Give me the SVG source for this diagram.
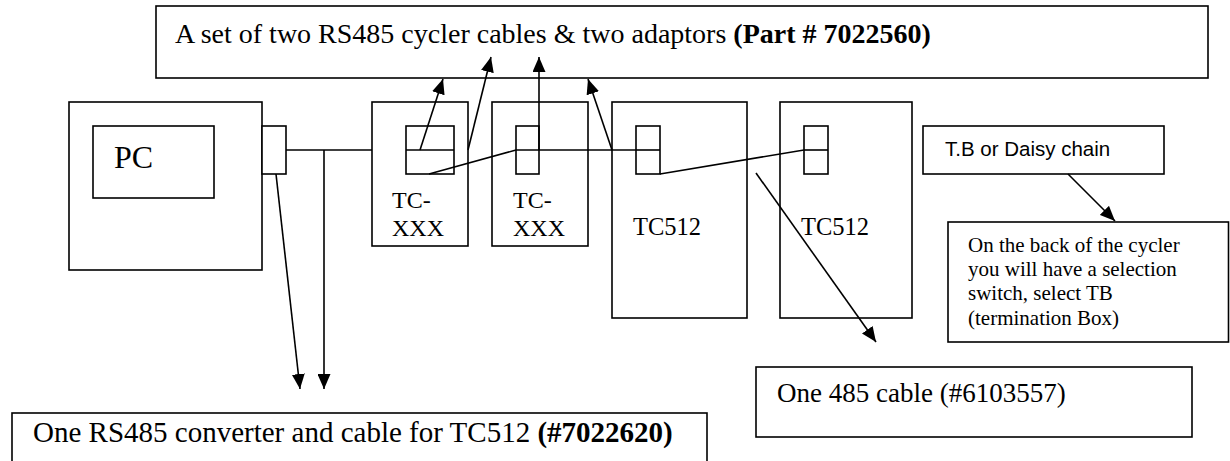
<svg xmlns="http://www.w3.org/2000/svg" width="1230" height="461" viewBox="0 0 1230 461">
<style>
  .box { fill: #fff; stroke: #000; stroke-width: 1.6; }
  .ln { fill: none; stroke: #000; stroke-width: 1.6; }
  .arr { fill: none; stroke: #000; stroke-width: 1.6; marker-end: url(#ah); }
  .t { font-family: "Liberation Serif", "Times New Roman", serif; fill: #000; }
  .s { font-family: "Liberation Sans", Arial, sans-serif; fill: #000; }
  .b { font-weight: bold; }
</style>
<defs>
  <marker id="ah" viewBox="0 0 15 13" refX="15" refY="6.5" markerWidth="15" markerHeight="13" markerUnits="userSpaceOnUse" orient="auto">
    <path d="M0,0 L15,6.5 L0,13 z" fill="#000"/>
  </marker>
</defs>
<rect width="1230" height="461" fill="#fff"/>

<g id="top-box">
  <rect class="box" x="156" y="6" width="1052" height="72"/>
  <text class="t" x="175" y="43" font-size="28">A set of two RS485 cycler cables &amp; two adaptors <tspan class="b">(Part # 7022560)</tspan></text>
</g>

<g id="pc">
  <rect class="box" x="69" y="102" width="193" height="168"/>
  <rect class="box" x="93" y="126" width="121" height="72"/>
  <text class="t" x="114" y="168" font-size="32">PC</text>
  <rect class="box" x="262" y="126" width="24" height="48"/>
</g>

<g id="tc-xxx-1">
  <rect class="box" x="372" y="102" width="96" height="144"/>
  <rect class="box" x="406" y="126" width="48" height="48"/>
  <line class="ln" x1="406" y1="150" x2="454" y2="150"/>
  <text class="t" x="392" y="208" font-size="24">TC-</text>
  <text class="t" x="392" y="236" font-size="24">XXX</text>
</g>

<g id="tc-xxx-2">
  <rect class="box" x="492" y="102" width="96" height="144"/>
  <rect class="box" x="516" y="126" width="23" height="48"/>
  <text class="t" x="513" y="208" font-size="24">TC-</text>
  <text class="t" x="513" y="236" font-size="24">XXX</text>
</g>

<g id="tc512-1">
  <rect class="box" x="612" y="102" width="135" height="216"/>
  <rect class="box" x="636" y="126" width="24" height="48"/>
  <line class="ln" x1="636" y1="150" x2="660" y2="150"/>
  <text class="t" x="633" y="235" font-size="24.5">TC512</text>
</g>

<g id="tc512-2">
  <rect class="box" x="780" y="102" width="132" height="216"/>
  <rect class="box" x="804" y="126" width="24" height="48"/>
  <line class="ln" x1="804" y1="150" x2="828" y2="150"/>
  <text class="t" x="801" y="235" font-size="24.5">TC512</text>
</g>

<g id="tb-note">
  <rect class="box" x="923" y="126" width="241" height="48"/>
  <text class="s" x="945" y="156" font-size="20.5">T.B or Daisy chain</text>
</g>

<g id="back-note">
  <rect class="box" x="948" y="222" width="280.5" height="120"/>
  <text class="t" font-size="21">
    <tspan x="968" y="252">On the back of the cycler</tspan>
    <tspan x="968" y="276">you will have a selection</tspan>
    <tspan x="968" y="300">switch, select TB</tspan>
    <tspan x="968" y="325">(termination Box)</tspan>
  </text>
</g>

<g id="cable-485">
  <rect class="box" x="756" y="367" width="436" height="70"/>
  <text class="t" x="777" y="402" font-size="27">One 485 cable (#6103557)</text>
</g>

<g id="converter">
  <rect class="box" x="12" y="413" width="695" height="60"/>
  <text class="t" x="33" y="442" font-size="29">One RS485 converter and cable for TC512 <tspan class="b">(#7022620)</tspan></text>
</g>

<g id="connectors">
  <line class="ln" x1="286" y1="150" x2="372" y2="150"/>
  <line class="ln" x1="429" y1="174" x2="516" y2="150"/>
  <line class="ln" x1="516" y1="150" x2="636" y2="150"/>
  <line class="ln" x1="660" y1="174" x2="804" y2="150"/>
  <line class="arr" x1="420" y1="150" x2="443" y2="79"/>
  <line class="arr" x1="468" y1="150" x2="491" y2="57"/>
  <line class="arr" x1="539" y1="150" x2="539" y2="57"/>
  <line class="arr" x1="612" y1="150" x2="588" y2="79"/>
  <line class="arr" x1="324" y1="150" x2="324" y2="389"/>
  <line class="arr" x1="276" y1="174" x2="300" y2="389"/>
  <line class="arr" x1="756" y1="173" x2="876" y2="342"/>
  <line class="arr" x1="1068" y1="174" x2="1115" y2="221"/>
</g>
</svg>
